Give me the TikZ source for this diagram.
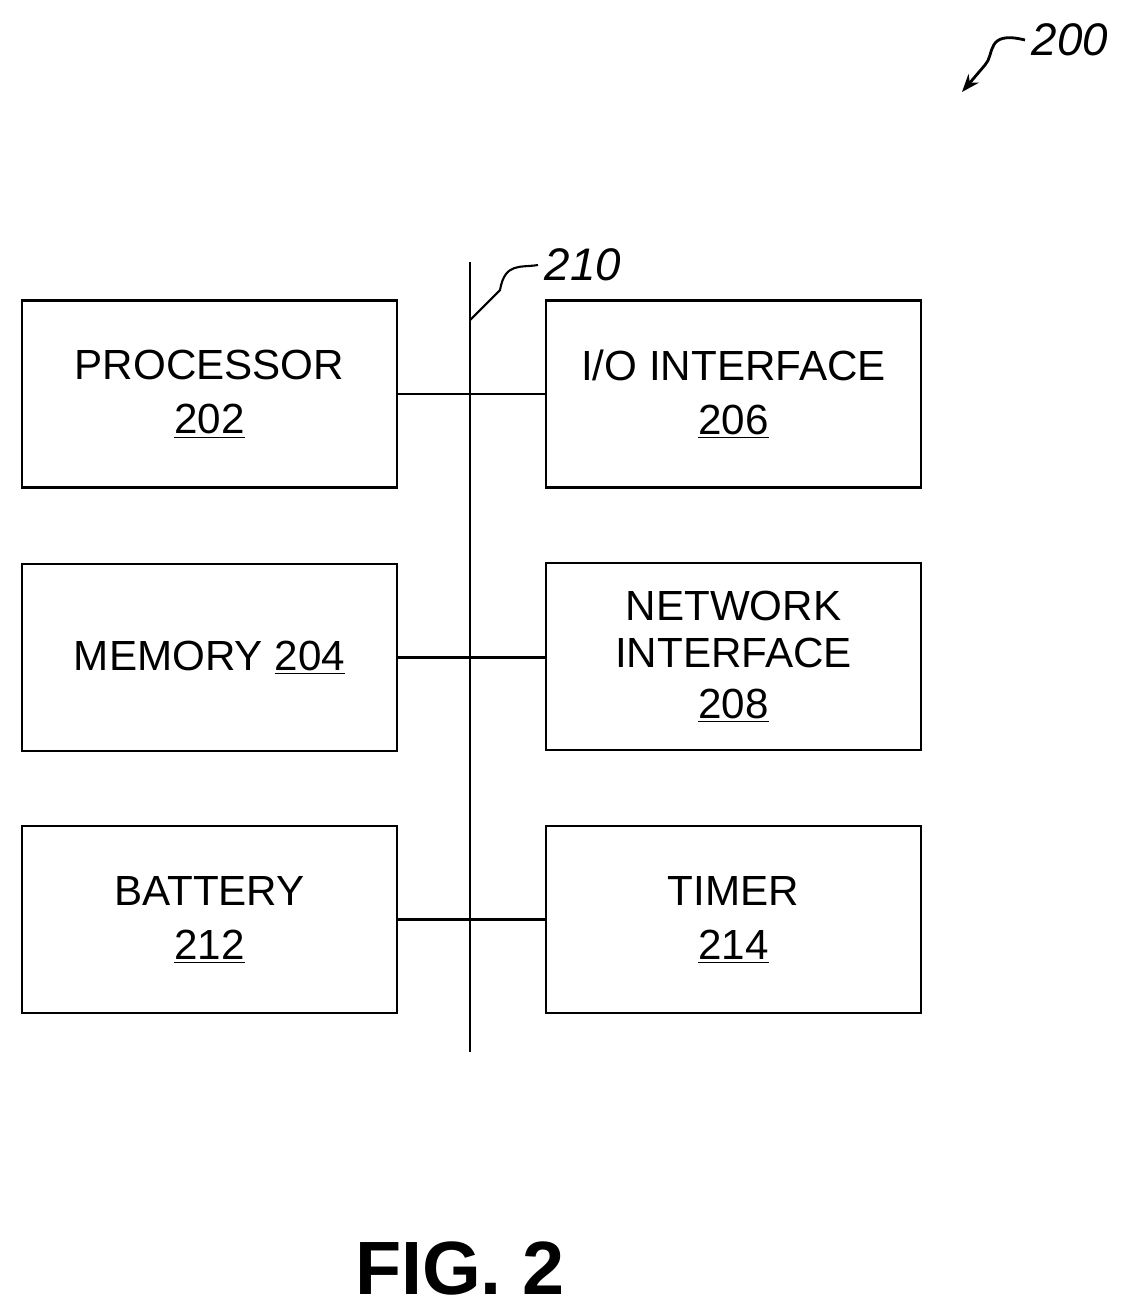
\documentclass[tikz,border=0pt]{standalone}
\usepackage{fontspec}
\setmainfont{Liberation Sans}
\usetikzlibrary{arrows.meta}
\usetikzlibrary{positioning}
\tikzset{
  blk/.style={draw,line width=1.2pt,minimum width=7.5cm,minimum height=3.74cm,
    align=center,font=\fontsize{24}{31}\selectfont,inner sep=0pt},
  lbl/.style={font=\itshape\fontsize{26}{30}\selectfont}
}
\begin{document}
\begin{tikzpicture}[x=0.02cm,y=-0.02cm,>=Stealth,line width=1.2pt]
\useasboundingbox (0,0) rectangle (1131,1316);
% boxes
\node[blk] (proc) at (209.5,394) {PROCESSOR\\[0pt]\underline{202}};
\node[blk] (io) at (733.5,394) {I/O INTERFACE\\[0pt]\underline{206}};
\node[blk] (mem) at (209.5,657.5) {MEMORY \underline{204}};
\node[blk] (net) at (733.5,656.5) {NETWORK\\[-4pt]INTERFACE\\[-2pt]\underline{208}};
\node[blk] (bat) at (209.5,919.5) {BATTERY\\[0pt]\underline{212}};
\node[blk] (tim) at (733.5,919.5) {TIMER\\[0pt]\underline{214}};
% bus
\coordinate (bustop) at (470,262);
\coordinate (busbot) at (470,1052);
\draw (bustop) -- (busbot);
\draw (proc.east) -- (io.west);
\draw (mem.east) -- (net.west |- mem.east);
\draw (bat.east) -- (tim.west);
% reference labels
\node[lbl,anchor=west] (n210) at (538,265) {210};
\draw (470,320) -- (500,290) .. controls (505,262) and (520,268) .. (n210.west);
\node[lbl,anchor=west] (n200) at (1025,40) {200};
\draw[->,line width=1.6pt] (n200.west) .. controls (985,30) and (995,55) .. (985,65) -- (962,92);
% caption
\node[font=\bfseries\fontsize{43}{46}\selectfont] (fig) at (460,1268) {FIG. 2};
\end{tikzpicture}
\end{document}
